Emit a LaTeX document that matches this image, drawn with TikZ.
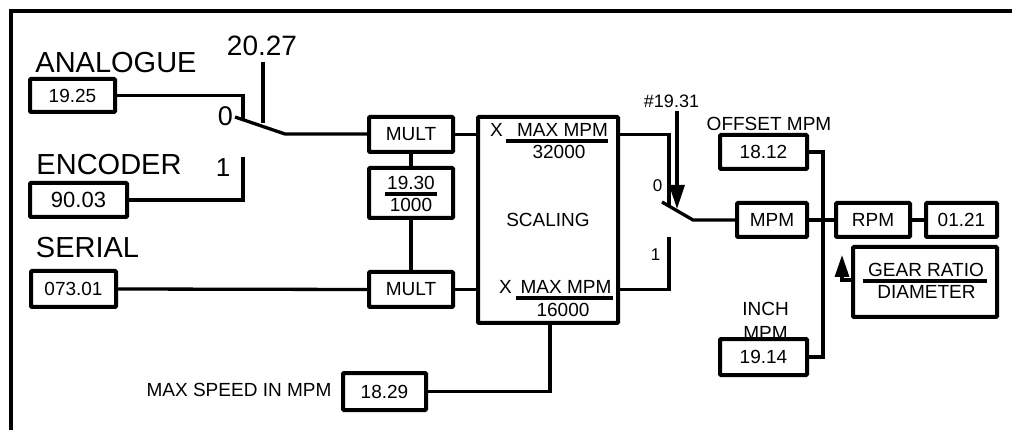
\documentclass[tikz,border=0pt]{standalone}
\usepackage{fontspec}
\setmainfont{Liberation Sans}
\usetikzlibrary{arrows.meta}

\begin{document}
\begin{tikzpicture}[x=1pt, y=-1pt,
  wire/.style={line width=3.3pt},
  fracbar/.style={line width=3.5pt},
  parbox/.style={draw, line width=4pt, fill=white, inner sep=0pt, rounded corners=1pt,
                 font=\fontsize{19}{22}\selectfont},
  biglbl/.style={inner sep=0pt, font=\fontsize{29}{34}\selectfont},
  lbl/.style={inner sep=0pt, font=\fontsize{19}{23}\selectfont},
  tip/.style={-{Triangle[length=24pt,width=15pt]}}]
  \clip (0,0) rectangle (1012,430);
  % frame
  \draw[line width=4pt] (11,460) |- (1040,11);

  % inputs
  \node[biglbl] (lblana) at (116,62.5) {ANALOGUE};
  \node[biglbl] (lblenc) at (109,165) {ENCODER};
  \node[biglbl] (lblser) at (87.5,247.5) {SERIAL};
  \node[parbox, minimum width=85pt, minimum height=33pt] (p1925) at (72.5,95.5) {19.25};
  \node[parbox, minimum width=97pt, minimum height=34pt, font=\fontsize{22}{26}\selectfont] (p9003) at (78.5,200) {90.03};
  \node[parbox, minimum width=85pt, minimum height=36pt] (p07301) at (73.5,289) {073.01};

  % switch 20.27
  \node[biglbl, font=\fontsize{28}{32}\selectfont] (lbl2027) at (262,46) {20.27};
  \node[biglbl, font=\fontsize{27}{32}\selectfont] (lblsw1a) at (225.5,116.5) {0};
  \node[biglbl, font=\fontsize{26}{32}\selectfont] (lblsw1b) at (223,168) {1};
  \coordinate (sw1tip) at (235,117);
  \coordinate (sw1pivot) at (285,134);
  \coordinate (sw1zero) at (243,119.5);
  \coordinate (sw1one) at (243,157);
  \coordinate (sw1act) at (263,123.5);
  \draw[wire] (p1925.east) -| (sw1zero);
  \draw[wire] (p9003.east) -| (sw1one);
  \draw[wire] ([yshift=-6pt]lbl2027.south -| sw1act) -- (sw1act);

  % multipliers
  \node[parbox, minimum width=84pt, minimum height=35pt] (multA) at (411,134.5) {MULT};
  \node[parbox, minimum width=84pt, minimum height=50pt] (ratio) at (411,193) {};
  \node[lbl] (num1930) at (411,182.5) {19.30};
  \node[lbl] (den1000) at (411,205) {1000};
  \draw[fracbar] (385,194) -- (437,194);
  \node[parbox, minimum width=84pt, minimum height=35pt] (multB) at (411,289.5) {MULT};
  \draw[wire] (sw1tip) -- (sw1pivot) -- (sw1pivot -| multA.west);
  \draw[wire] (p07301.east) -- (multB.west);
  \draw[wire] (multA.south) -- (ratio.north);
  \draw[wire] (ratio.south) -- (multB.north);

  % scaling block
  \node[parbox, minimum width=140pt, minimum height=206pt] (scaling) at (548,220) {SCALING};
  \draw[wire] (multA.east) -- (multA.east -| scaling.west);
  \draw[wire] (multB.east) -- (multB.east -| scaling.west);
  \node[lbl] (xup) at (496.5,130) {X};
  \node[lbl] (maxup) at (562.5,130) {MAX MPM};
  \node[lbl] (den32) at (559,152) {32000};
  \draw[fracbar] (506,141) -- (608,141);
  \node[lbl] (xlow) at (505.5,287) {X};
  \node[lbl] (maxlow) at (566,287) {MAX MPM};
  \node[lbl] (den16) at (563,310) {16000};
  \draw[fracbar] (516,298) -- (613,298);

  % max speed
  \node[lbl] (lblmax) at (239,390) {MAX SPEED IN MPM};
  \node[parbox, minimum width=83pt, minimum height=37pt] (p1829) at (384.5,391.5) {18.29};
  \draw[wire] (p1829.east) -| ([xshift=2pt]scaling.south);

  % switch 19.31
  \node[lbl, font=\fontsize{18}{22}\selectfont] (lbl1931) at (671.5,101) {\#19.31};
  \node[lbl, font=\fontsize{17}{20}\selectfont] (lblsw2a) at (657.5,186) {0};
  \node[lbl, font=\fontsize{17}{20}\selectfont] (lblsw2b) at (655.5,254.5) {1};
  \coordinate (sw2tip) at (662,202);
  \coordinate (sw2pivot) at (693,220);
  \coordinate (sw2zero) at (669,206);
  \coordinate (sw2one) at (669,237);
  \coordinate (sw2act) at (677,209);
  \draw[wire] (multA.east -| scaling.east) -| (sw2zero);
  \draw[wire] (multB.east -| scaling.east) -| (sw2one);
  \draw[wire, tip] ([yshift=-3pt]lbl1931.south -| sw2act) -- (sw2act);

  % output side
  \node[lbl] (lbloff) at (769,123.5) {OFFSET MPM};
  \node[lbl, anchor=north, align=center, font=\fontsize{19}{24}\selectfont] (lblinch) at (765.5,302) {INCH\\MPM};
  \node[parbox, minimum width=87pt, minimum height=34pt] (p1812) at (763.5,152) {18.12};
  \node[parbox, minimum width=87pt, minimum height=36pt] (p1914) at (763.5,357) {19.14};
  \node[parbox, minimum width=70pt, minimum height=34pt] (mpm) at (772,220) {MPM};
  \node[parbox, minimum width=74pt, minimum height=34pt] (rpm) at (873,220) {RPM};
  \node[parbox, minimum width=71pt, minimum height=34pt] (p0121) at (961.5,220) {01.21};
  \node[parbox, minimum width=144pt, minimum height=70pt] (gear) at (925,282) {};
  \node[lbl] (numgear) at (926,270) {GEAR RATIO};
  \node[lbl] (dengear) at (926.5,291.5) {DIAMETER};
  \draw[fracbar] (863,281) -- (987,281);
  \coordinate (jn) at (823,220);
  \coordinate (gearin) at (842,255);
  \draw[wire] (sw2tip) -- (sw2pivot) -- (mpm.west);
  \draw[wire] (mpm.east) -- (rpm.west);
  \draw[wire] (rpm.east) -- (p0121.west);
  \draw[wire] (p1812.east) -| (jn) |- (p1914.east);
  \draw[wire, -{Triangle[length=22pt,width=14pt]}] ([yshift=2pt]gear.west) -| (gearin);
\end{tikzpicture}
\end{document}
